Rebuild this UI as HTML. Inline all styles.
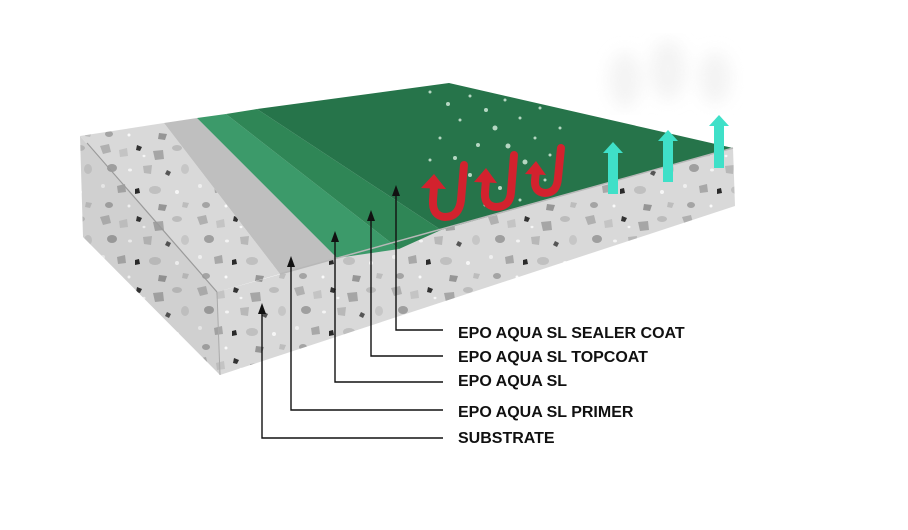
<!DOCTYPE html>
<html><head><meta charset="utf-8"><style>
html,body{margin:0;padding:0;background:#fff;width:908px;height:530px;overflow:hidden}
svg{display:block}
text{font-family:"Liberation Sans",sans-serif;font-weight:bold;font-size:16px;fill:#111}
</style></head><body>
<svg width="908" height="530" viewBox="0 0 908 530" xmlns="http://www.w3.org/2000/svg">
<defs>
<pattern id="conc" width="97" height="71" patternUnits="userSpaceOnUse">
<rect width="97" height="71" fill="#d9d9d9"/>
<polygon points="3,4 12,2 14,10 6,12" fill="#b0b0b0"/>
<polygon points="22,8 30,6 31,14 23,15" fill="#c4c4c4"/>
<polygon points="40,3 45,5 43,9 39,8" fill="#333"/>
<polygon points="56,9 66,8 67,17 58,18" fill="#a6a6a6"/>
<ellipse cx="80" cy="6" rx="5" ry="3" fill="#bcbcbc"/>
<ellipse cx="15" cy="26" rx="5" ry="4" fill="#9f9f9f"/>
<ellipse cx="33" cy="28" rx="2" ry="1.5" fill="#f4f4f4"/>
<polygon points="46,24 55,23 54,32 47,31" fill="#b8b8b8"/>
<polygon points="70,28 74,30 72,34 68,32" fill="#555"/>
<ellipse cx="88" cy="27" rx="4" ry="5" fill="#c6c6c6"/>
<ellipse cx="6" cy="44" rx="2" ry="2" fill="#efefef"/>
<polygon points="20,44 28,42 29,50 21,51" fill="#a8a8a8"/>
<polygon points="38,47 42,46 43,51 38,52" fill="#2a2a2a"/>
<ellipse cx="58" cy="48" rx="6" ry="4" fill="#c0c0c0"/>
<ellipse cx="80" cy="50" rx="2" ry="2" fill="#f6f6f6"/>
<ellipse cx="12" cy="63" rx="4" ry="3" fill="#a4a4a4"/>
<ellipse cx="32" cy="64" rx="1.5" ry="1.5" fill="#fafafa"/>
<polygon points="62,62 70,63 68,69 61,68" fill="#969696"/>
<polygon points="86,60 92,61 90,66 85,65" fill="#bdbdbd"/>
<ellipse cx="47" cy="14" rx="1.5" ry="1.2" fill="#f6f6f6"/>
</pattern>
<filter id="blur"><feGaussianBlur stdDeviation="8"/></filter>
</defs>

<g filter="url(#blur)" fill="#ececec" opacity="0.6">
<ellipse cx="625" cy="80" rx="16" ry="28"/>
<ellipse cx="668" cy="70" rx="18" ry="30"/>
<ellipse cx="715" cy="78" rx="16" ry="26"/>
</g>

<polygon points="80,136 217,292 220,375 83,237" fill="url(#conc)"/>
<polygon points="80,136 217,292 220,375 83,237" fill="#000" opacity="0.04"/>
<polygon points="217,292 733,148 735,206 220,375" fill="url(#conc)"/>
<polygon points="80,136 164,123 280,274 217,292" fill="url(#conc)"/>
<line x1="87" y1="143" x2="217" y2="292" stroke="#9a9a9a" stroke-width="1.2"/>
<line x1="217" y1="292" x2="220" y2="375" stroke="#aaa" stroke-width="1"/>
<polygon points="164,123 197,118 337,258 280,274" fill="#bfbfbf"/>
<polygon points="197,118 226,114 399,249 337,258" fill="#3c9a6a"/>
<polygon points="226,114 257,109 441,230 399,249" fill="#2f8656"/>
<polygon points="257,109 449,83 733,148 441,230" fill="#26744a"/>
<line x1="280" y1="274" x2="733" y2="148" stroke="#b8b8b8" stroke-width="1.5"/>

<g fill="#cfe9d8" opacity="0.85">
<circle cx="448" cy="104" r="2"/><circle cx="470" cy="96" r="1.5"/><circle cx="486" cy="110" r="2"/>
<circle cx="505" cy="100" r="1.5"/><circle cx="460" cy="120" r="1.5"/><circle cx="495" cy="128" r="2.5"/>
<circle cx="520" cy="118" r="1.5"/><circle cx="440" cy="138" r="1.5"/><circle cx="478" cy="145" r="2"/>
<circle cx="508" cy="146" r="2.5"/><circle cx="535" cy="138" r="1.5"/><circle cx="455" cy="158" r="2"/>
<circle cx="525" cy="162" r="2.5"/><circle cx="550" cy="155" r="1.5"/><circle cx="470" cy="175" r="2"/>
<circle cx="500" cy="188" r="2"/><circle cx="545" cy="180" r="1.5"/><circle cx="430" cy="160" r="1.5"/>
<circle cx="520" cy="200" r="1.5"/><circle cx="560" cy="128" r="1.5"/><circle cx="485" cy="205" r="1.5"/>
<circle cx="430" cy="92" r="1.5"/><circle cx="540" cy="108" r="1.5"/><circle cx="462" cy="190" r="1.5"/>
</g>

<g fill="none" stroke="#d3222e" stroke-width="8" stroke-linecap="round">
<path d="M464,165 L461,200 Q459,217 445,217 Q432,216 433,200 L434,186"/>
<path d="M514,155 L511,192 Q510,207 496,207 Q484,206 485,192 L486,180"/>
<path d="M561,148 L558,178 Q557,193 545,193 Q534,192 535,180 L536,172"/>
</g>
<g fill="#d3222e">
<polygon points="421,188 434,174 446,189"/>
<polygon points="474,182 486,168 497,183"/>
<polygon points="525,174 536,161 546,175"/>
</g>

<g fill="#3fe0c8">
<rect x="608" y="152" width="10" height="42"/><polygon points="603,153 613,142 623,153"/>
<rect x="663" y="140" width="10" height="42"/><polygon points="658,141 668,130 678,141"/>
<rect x="714" y="125" width="10" height="43"/><polygon points="709,126 719,115 729,126"/>
</g>

<g fill="none" stroke="#111" stroke-width="1.4">
<polyline points="396,193 396,330 443,330"/>
<polyline points="371,218 371,356 443,356"/>
<polyline points="335,239 335,382 443,382"/>
<polyline points="291,264 291,410 443,410"/>
<polyline points="262,311 262,438 443,438"/>
</g>
<g fill="#111">
<polygon points="392,196 396,185 400,196"/>
<polygon points="367,221 371,210 375,221"/>
<polygon points="331,242 335,231 339,242"/>
<polygon points="287,267 291,256 295,267"/>
<polygon points="258,314 262,303 266,314"/>
</g>

<text x="458" y="338">EPO AQUA SL SEALER COAT</text>
<text x="458" y="362">EPO AQUA SL TOPCOAT</text>
<text x="458" y="386">EPO AQUA SL</text>
<text x="458" y="417">EPO AQUA SL PRIMER</text>
<text x="458" y="443">SUBSTRATE</text>
</svg>
</body></html>
